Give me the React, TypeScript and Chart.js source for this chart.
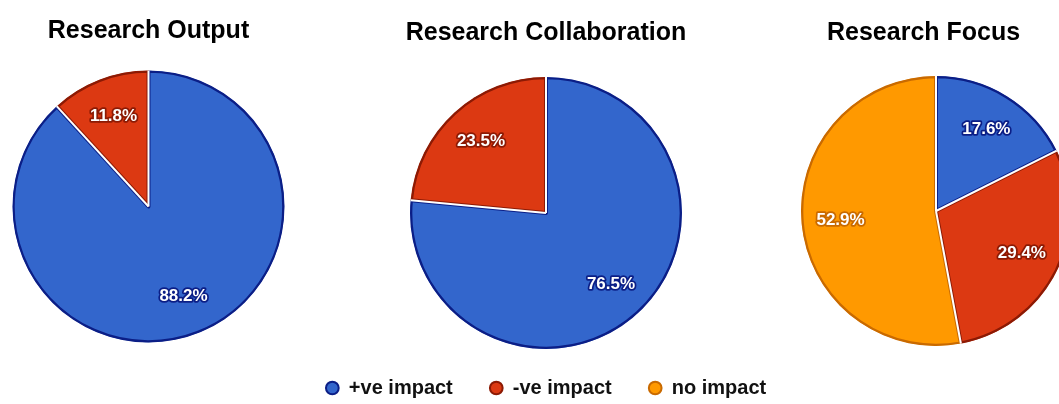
import React, { useEffect, useRef } from "react";
import { Chart, registerables } from "chart.js";

Chart.register(...registerables);

// ---- data ----
const LABELS = ["+ve impact", "-ve impact", "no impact"];
const TITLES = ["Research Output", "Research Collaboration", "Research Focus"];
const OUTPUT_VALUES = [88.2, 11.8, 0];
const COLLAB_VALUES = [76.5, 23.5, 0];
const FOCUS_VALUES = [17.6, 29.4, 52.9];

// ---- styles ----
const FILLS = ["#3366CC", "#DC3912", "#FF9900"];
const EDGES = ["#0B1E86", "#8C1A04", "#C96A00"];
const FONT = '"Liberation Sans", Arial, sans-serif';

const sliceDecor = {
  id: "sliceDecor",
  afterDatasetsDraw(chart: any) {
    const ctx = chart.ctx;
    const meta = chart.getDatasetMeta(0);
    const ds = chart.data.datasets[0];
    const live = meta.data
      .map((arc: any, i: number) => ({ arc, i, v: ds.data[i] as number }))
      .filter((o: any) => o.v > 0);
    ctx.save();
    if (live.length > 1) {
      ctx.strokeStyle = "#ffffff";
      ctx.lineWidth = 2;
      ctx.lineCap = "butt";
      live.forEach(({ arc }: any) => {
        const p = arc.getProps(["x", "y", "startAngle", "outerRadius"], true);
        ctx.beginPath();
        ctx.moveTo(p.x, p.y);
        ctx.lineTo(p.x + Math.cos(p.startAngle) * p.outerRadius, p.y + Math.sin(p.startAngle) * p.outerRadius);
        ctx.stroke();
      });
    }
    ctx.font = `bold 17px ${FONT}`;
    ctx.textAlign = "center";
    ctx.textBaseline = "middle";
    ctx.lineJoin = "round";
    live.forEach(({ arc, i, v }: any) => {
      const p = arc.getProps(["x", "y", "startAngle", "endAngle", "outerRadius"], true);
      const mid = (p.startAngle + p.endAngle) / 2;
      const r = p.outerRadius * 0.71;
      const tx = p.x + Math.cos(mid) * r;
      const ty = p.y + Math.sin(mid) * r;
      const text = `${v.toFixed(1)}%`;
      ctx.strokeStyle = EDGES[i];
      ctx.lineWidth = 3.5;
      ctx.strokeText(text, tx, ty);
      ctx.fillStyle = "#ffffff";
      ctx.fillText(text, tx, ty);
    });
    ctx.restore();
  },
};

type PieSpec = {
  title: string;
  values: number[];
  left: number;
  width: number;
  height: number;
  radius: number;
  titlePad: { top: number; bottom: number };
  titleAlign: "start" | "center";
  layoutPad: { left: number; right: number };
  legend: boolean;
};

const SPECS: PieSpec[] = [
  {
    title: TITLES[0],
    values: OUTPUT_VALUES,
    left: 0,
    width: 297,
    height: 343,
    radius: 136,
    titlePad: { top: 16, bottom: 24 },
    titleAlign: "center",
    layoutPad: { left: 0, right: 0 },
    legend: false,
  },
  {
    title: TITLES[1],
    values: COLLAB_VALUES,
    left: 256,
    width: 580,
    height: 408,
    radius: 136,
    titlePad: { top: 18, bottom: 37 },
    titleAlign: "center",
    layoutPad: { left: 0, right: 0 },
    legend: true,
  },
  {
    title: TITLES[2],
    values: FOCUS_VALUES,
    left: 780,
    width: 291,
    height: 346,
    radius: 135,
    titlePad: { top: 18, bottom: 28 },
    titleAlign: "start",
    layoutPad: { left: 47, right: 26 },
    legend: false,
  },
];

function PieChart({ spec }: { spec: PieSpec }) {
  const ref = useRef<HTMLCanvasElement | null>(null);
  useEffect(() => {
    if (!ref.current) return;
    const chart = new Chart(ref.current, {
      type: "pie",
      data: {
        labels: LABELS,
        datasets: [
          {
            data: spec.values,
            backgroundColor: FILLS,
            borderColor: EDGES,
            borderWidth: 2,
            borderAlign: "inner",
            radius: spec.radius,
            hoverOffset: 0,
          } as any,
        ],
      },
      options: {
        animation: false,
        responsive: false,
        events: [],
        layout: { padding: { left: spec.layoutPad.left, right: spec.layoutPad.right, top: 0, bottom: 0 } },
        plugins: {
          tooltip: { enabled: false },
          title: {
            display: true,
            text: spec.title,
            align: spec.titleAlign,
            color: "#000000",
            font: { family: FONT, size: 25, weight: "bold" },
            padding: spec.titlePad,
          },
          legend: {
            display: spec.legend,
            position: "bottom",
            labels: {
              usePointStyle: true,
              pointStyle: "circle",
              boxWidth: 13,
              boxHeight: 9,
              padding: 37,
              color: "#111111",
              font: { family: FONT, size: 20, weight: "bold" },
            },
          },
        },
      },
      plugins: [sliceDecor],
    });
    return () => chart.destroy();
  }, [spec]);
  return (
    <canvas
      ref={ref}
      width={spec.width}
      height={spec.height}
      style={{ position: "absolute", left: spec.left, top: 0, width: spec.width, height: spec.height }}
    />
  );
}

export default function App() {
  return (
    <div
      style={{
        position: "absolute",
        left: 0,
        top: 0,
        width: 1059,
        height: 404,
        overflow: "hidden",
        background: "#ffffff",
      }}
    >
      {SPECS.map((s) => (
        <PieChart key={s.title} spec={s} />
      ))}
    </div>
  );
}
